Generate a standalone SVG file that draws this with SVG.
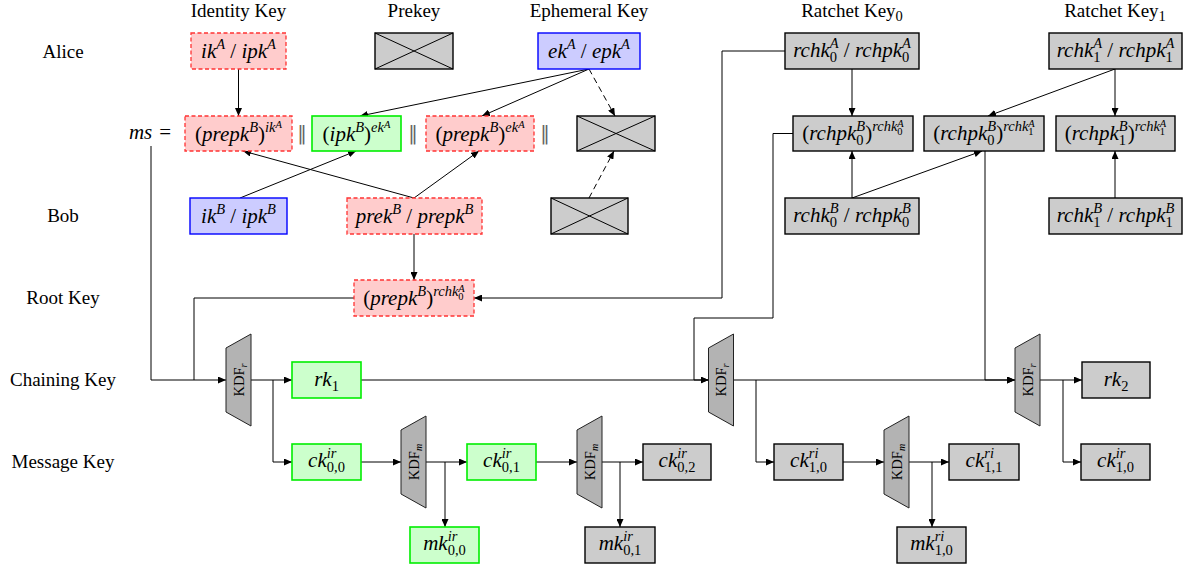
<svg xmlns="http://www.w3.org/2000/svg" xmlns:xlink="http://www.w3.org/1999/xlink" width="1190" height="572" viewBox="0 0 1190 572">
<style>
.t{font-family:"Liberation Serif","DejaVu Serif",serif;font-size:19px;fill:#000;text-anchor:middle}
.m{font-family:"Liberation Serif","DejaVu Serif",serif;font-size:21px;fill:#000;text-anchor:middle}
.i{font-style:italic}
.s{font-size:14.5px}
.ss{font-size:10.5px}
.k{font-family:"Liberation Serif","DejaVu Serif",serif;font-size:14.5px;fill:#000;text-anchor:middle}
.ks{font-size:10px;font-style:italic}
.red{fill:#ffcccc;stroke:#ff3333;stroke-width:1.3;stroke-dasharray:4 2.5}
.blue{fill:#ccccff;stroke:#0000ff;stroke-width:1.4}
.green{fill:#ccffcc;stroke:#00ee00;stroke-width:1.6}
.gray{fill:#cccccc;stroke:#000;stroke-width:1.4}
.kdf{fill:#b3b3b3;stroke:#222;stroke-width:1}
.x{stroke:#000;stroke-width:1;fill:none}
.c{fill:none;stroke:#000;stroke-width:1}
.a{marker-end:url(#ah)}
.d{stroke-dasharray:6 4}
.par{font-family:"DejaVu Sans",sans-serif;font-size:19px;fill:#666;text-anchor:middle}
</style>
<defs>
<marker id="ah" markerUnits="userSpaceOnUse" markerWidth="9" markerHeight="7" refX="8" refY="3.5" orient="auto">
<path d="M0,0 L8,3.5 L0,7 Z" fill="#000"/>
</marker>
<polygon id="kdfshape" class="kdf" points="-12.5,-32 12.5,-46 12.5,46 -12.5,32"/>
</defs>

<g id="headers">
<text class="t" x="238.5" y="17">Identity Key</text>
<text class="t" x="414" y="17">Prekey</text>
<text class="t" x="589" y="17">Ephemeral Key</text>
<text class="t" x="852" y="17">Ratchet Key<tspan class="s" dy="4">0</tspan></text>
<text class="t" x="1115" y="17">Ratchet Key<tspan class="s" dy="4">1</tspan></text>
<text class="t" x="63" y="58">Alice</text>
<text class="t" x="63" y="222">Bob</text>
<text class="t" x="63" y="304">Root Key</text>
<text class="t" x="63" y="386">Chaining Key</text>
<text class="t" x="63" y="468">Message Key</text>
<text class="m" x="150" y="139"><tspan class="i">ms</tspan><tspan dx="7">=</tspan></text>
<text class="par" x="302" y="140">‖</text>
<text class="par" x="413" y="140">‖</text>
<text class="par" x="545" y="140">‖</text>
</g>

<g id="connectors">
<path class="c a" d="M238.5,69 V116"/>
<path class="c a" d="M589,69 L360,116"/>
<path class="c a" d="M589,69 L482,116"/>
<path class="c a d" d="M589,69 L615,116"/>
<path class="c a d" d="M589,198 L614,151"/>
<path class="c a" d="M240,198 L356,151"/>
<path class="c a" d="M414,198 L243,151"/>
<path class="c a" d="M414,198 L479,151"/>
<path class="c a" d="M414,234 V280"/>
<path class="c a" d="M785,51 H722 V298 H474"/>
<path class="c" d="M354,298 H194 V380"/>
<path class="c a" d="M151,146 V380 H226"/>
<path class="c a" d="M251,380 H292"/>
<path class="c a" d="M273,380 V462 H292"/>
<path class="c a" d="M361,380 H708.5"/>
<path class="c a" d="M793,133.5 H773 V318 H694 V380 H708.5"/>
<path class="c a" d="M852,69 V116"/>
<path class="c a" d="M1115,69 L988,116"/>
<path class="c a" d="M1115,69 V116"/>
<path class="c a" d="M852,198 V151"/>
<path class="c a" d="M852,198 L982,151"/>
<path class="c a" d="M1115,198 V151"/>
<path class="c a" d="M985,151 V380 H1015"/>
<path class="c a" d="M733.5,380 H1015"/>
<path class="c a" d="M756,380 V462 H774"/>
<path class="c a" d="M1040,380 H1082"/>
<path class="c a" d="M1063,380 V462 H1081"/>
<path class="c a" d="M361,462 H401"/>
<path class="c a" d="M426,462 H467"/>
<path class="c a" d="M445,462 V527"/>
<path class="c a" d="M536,462 H577"/>
<path class="c a" d="M602,462 H643"/>
<path class="c a" d="M620,462 V527"/>
<path class="c a" d="M843,462 H884"/>
<path class="c a" d="M909,462 H949"/>
<path class="c a" d="M932,462 V527"/>
</g>

<g id="ikA"><rect class="red" x="191" y="33" width="95" height="36"/>
<text class="m" x="238.5" y="58"><tspan class="i">ik</tspan><tspan class="i s" dy="-9">A</tspan><tspan dy="9"> / </tspan><tspan class="i">ipk</tspan><tspan class="i s" dy="-9">A</tspan></text></g>

<g id="prekeyA"><rect class="gray" x="375" y="33" width="78" height="36"/><path class="x" d="M375,33 L453,69 M375,69 L453,33"/></g>

<g id="ekA"><rect class="blue" x="538" y="33" width="102" height="36"/>
<text class="m" x="589" y="58"><tspan class="i">ek</tspan><tspan class="i s" dy="-9">A</tspan><tspan dy="9"> / </tspan><tspan class="i">epk</tspan><tspan class="i s" dy="-9">A</tspan></text></g>

<g id="rchk0A"><rect class="gray" x="785" y="33" width="134" height="36"/>
<text class="m" x="852" y="57"><tspan class="i">rchk</tspan><tspan class="s" dy="5">0</tspan><tspan class="i s" dx="-7.25" dy="-14">A</tspan><tspan dy="9"> / </tspan><tspan class="i">rchpk</tspan><tspan class="s" dy="5">0</tspan><tspan class="i s" dx="-7.25" dy="-14">A</tspan></text></g>

<g id="rchk1A"><rect class="gray" x="1049" y="33" width="133" height="36"/>
<text class="m" x="1115.5" y="57"><tspan class="i">rchk</tspan><tspan class="s" dy="5">1</tspan><tspan class="i s" dx="-7.25" dy="-14">A</tspan><tspan dy="9"> / </tspan><tspan class="i">rchpk</tspan><tspan class="s" dy="5">1</tspan><tspan class="i s" dx="-7.25" dy="-14">A</tspan></text></g>

<g id="ms_ikA"><rect class="red" x="185" y="116" width="107" height="35"/>
<text class="m" x="238.5" y="141">(<tspan class="i">prepk</tspan><tspan class="i s" dy="-9">B</tspan><tspan dy="9">)</tspan><tspan class="i s" dy="-9">ik</tspan><tspan class="i ss" dy="-4">A</tspan></text></g>

<g id="ms_ekA1"><rect class="green" x="312" y="116" width="89" height="35"/>
<text class="m" x="356.5" y="141">(<tspan class="i">ipk</tspan><tspan class="i s" dy="-9">B</tspan><tspan dy="9">)</tspan><tspan class="i s" dy="-9">ek</tspan><tspan class="i ss" dy="-4">A</tspan></text></g>

<g id="ms_ekA2"><rect class="red" x="426" y="116" width="108" height="35"/>
<text class="m" x="480" y="141">(<tspan class="i">prepk</tspan><tspan class="i s" dy="-9">B</tspan><tspan dy="9">)</tspan><tspan class="i s" dy="-9">ek</tspan><tspan class="i ss" dy="-4">A</tspan></text></g>

<g id="ms_cross"><rect class="gray" x="577" y="116" width="78" height="35"/><path class="x" d="M577,116 L655,151 M577,151 L655,116"/></g>

<g id="rr00"><rect class="gray" x="793" y="116" width="120" height="35"/>
<text class="m" x="853" y="140">(<tspan class="i">rchpk</tspan><tspan class="s" dy="5">0</tspan><tspan class="i s" dx="-7.25" dy="-14">B</tspan><tspan dy="9">)</tspan><tspan class="i s" dy="-9">rchk</tspan><tspan class="ss" dy="4">0</tspan><tspan class="i ss" dx="-5.25" dy="-8">A</tspan></text></g>

<g id="rr01"><rect class="gray" x="924" y="116" width="120" height="35"/>
<text class="m" x="984" y="140">(<tspan class="i">rchpk</tspan><tspan class="s" dy="5">0</tspan><tspan class="i s" dx="-7.25" dy="-14">B</tspan><tspan dy="9">)</tspan><tspan class="i s" dy="-9">rchk</tspan><tspan class="ss" dy="4">1</tspan><tspan class="i ss" dx="-5.25" dy="-8">A</tspan></text></g>

<g id="rr11"><rect class="gray" x="1056" y="116" width="119" height="35"/>
<text class="m" x="1115.5" y="140">(<tspan class="i">rchpk</tspan><tspan class="s" dy="5">1</tspan><tspan class="i s" dx="-7.25" dy="-14">B</tspan><tspan dy="9">)</tspan><tspan class="i s" dy="-9">rchk</tspan><tspan class="ss" dy="4">1</tspan><tspan class="i ss" dx="-5.25" dy="-8">A</tspan></text></g>

<g id="ikB"><rect class="blue" x="190" y="198" width="97" height="36"/>
<text class="m" x="238.5" y="223"><tspan class="i">ik</tspan><tspan class="i s" dy="-9">B</tspan><tspan dy="9"> / </tspan><tspan class="i">ipk</tspan><tspan class="i s" dy="-9">B</tspan></text></g>

<g id="prekB"><rect class="red" x="347" y="198" width="135" height="36"/>
<text class="m" x="414.5" y="223"><tspan class="i">prek</tspan><tspan class="i s" dy="-9">B</tspan><tspan dy="9"> / </tspan><tspan class="i">prepk</tspan><tspan class="i s" dy="-9">B</tspan></text></g>

<g id="prekeyB"><rect class="gray" x="551" y="198" width="77" height="36"/><path class="x" d="M551,198 L628,234 M551,234 L628,198"/></g>

<g id="rchk0B"><rect class="gray" x="785" y="198" width="134" height="36"/>
<text class="m" x="852" y="222"><tspan class="i">rchk</tspan><tspan class="s" dy="5">0</tspan><tspan class="i s" dx="-7.25" dy="-14">B</tspan><tspan dy="9"> / </tspan><tspan class="i">rchpk</tspan><tspan class="s" dy="5">0</tspan><tspan class="i s" dx="-7.25" dy="-14">B</tspan></text></g>

<g id="rchk1B"><rect class="gray" x="1049" y="198" width="133" height="36"/>
<text class="m" x="1115.5" y="222"><tspan class="i">rchk</tspan><tspan class="s" dy="5">1</tspan><tspan class="i s" dx="-7.25" dy="-14">B</tspan><tspan dy="9"> / </tspan><tspan class="i">rchpk</tspan><tspan class="s" dy="5">1</tspan><tspan class="i s" dx="-7.25" dy="-14">B</tspan></text></g>

<g id="rootkey"><rect class="red" x="354" y="280" width="120" height="36"/>
<text class="m" x="414" y="305">(<tspan class="i">prepk</tspan><tspan class="i s" dy="-9">B</tspan><tspan dy="9">)</tspan><tspan class="i s" dy="-9">rchk</tspan><tspan class="ss" dy="4">0</tspan><tspan class="i ss" dx="-5.25" dy="-8">A</tspan></text></g>

<g id="kdfr1"><use xlink:href="#kdfshape" x="238.5" y="380"/>
<text class="k" transform="translate(243.5,380) rotate(-90)">KDF<tspan class="ks" dy="3">r</tspan></text></g>
<g id="kdfr2"><use xlink:href="#kdfshape" x="721" y="380"/>
<text class="k" transform="translate(726,380) rotate(-90)">KDF<tspan class="ks" dy="3">r</tspan></text></g>
<g id="kdfr3"><use xlink:href="#kdfshape" x="1027.5" y="380"/>
<text class="k" transform="translate(1032.5,380) rotate(-90)">KDF<tspan class="ks" dy="3">r</tspan></text></g>
<g id="kdfm1"><use xlink:href="#kdfshape" x="413.5" y="462"/>
<text class="k" transform="translate(418.5,462) rotate(-90)">KDF<tspan class="ks" dy="3">m</tspan></text></g>
<g id="kdfm2"><use xlink:href="#kdfshape" x="589.5" y="462"/>
<text class="k" transform="translate(594.5,462) rotate(-90)">KDF<tspan class="ks" dy="3">m</tspan></text></g>
<g id="kdfm3"><use xlink:href="#kdfshape" x="896.5" y="462"/>
<text class="k" transform="translate(901.5,462) rotate(-90)">KDF<tspan class="ks" dy="3">m</tspan></text></g>

<g id="rk1"><rect class="green" x="292" y="362" width="69" height="36"/>
<text class="m" x="326.5" y="386"><tspan class="i">rk</tspan><tspan class="s" dy="5">1</tspan></text></g>
<g id="rk2"><rect class="gray" x="1082" y="362" width="68" height="36"/>
<text class="m" x="1116" y="386"><tspan class="i">rk</tspan><tspan class="s" dy="5">2</tspan></text></g>

<g id="ck00"><rect class="green" x="292" y="444" width="69" height="36"/>
<text class="m" x="326.5" y="467"><tspan class="i">ck</tspan><tspan class="i s" dy="-9">ir</tspan><tspan class="s" dx="-9.7" dy="14">0,0</tspan></text></g>
<g id="ck01"><rect class="green" x="467" y="444" width="69" height="36"/>
<text class="m" x="501.5" y="467"><tspan class="i">ck</tspan><tspan class="i s" dy="-9">ir</tspan><tspan class="s" dx="-9.7" dy="14">0,1</tspan></text></g>
<g id="ck02"><rect class="gray" x="643" y="444" width="68" height="36"/>
<text class="m" x="677" y="467"><tspan class="i">ck</tspan><tspan class="i s" dy="-9">ir</tspan><tspan class="s" dx="-9.7" dy="14">0,2</tspan></text></g>
<g id="ck10ri"><rect class="gray" x="774" y="444" width="69" height="36"/>
<text class="m" x="808.5" y="467"><tspan class="i">ck</tspan><tspan class="i s" dy="-9">ri</tspan><tspan class="s" dx="-9.7" dy="14">1,0</tspan></text></g>
<g id="ck11ri"><rect class="gray" x="949" y="444" width="70" height="36"/>
<text class="m" x="984" y="467"><tspan class="i">ck</tspan><tspan class="i s" dy="-9">ri</tspan><tspan class="s" dx="-9.7" dy="14">1,1</tspan></text></g>
<g id="ck10ir"><rect class="gray" x="1081" y="444" width="69" height="36"/>
<text class="m" x="1115.5" y="467"><tspan class="i">ck</tspan><tspan class="i s" dy="-9">ir</tspan><tspan class="s" dx="-9.7" dy="14">1,0</tspan></text></g>

<g id="mk00"><rect class="green" x="410" y="527" width="69" height="36"/>
<text class="m" x="444.5" y="550"><tspan class="i">mk</tspan><tspan class="i s" dy="-9">ir</tspan><tspan class="s" dx="-9.7" dy="14">0,0</tspan></text></g>
<g id="mk01"><rect class="gray" x="585" y="527" width="70" height="36"/>
<text class="m" x="620" y="550"><tspan class="i">mk</tspan><tspan class="i s" dy="-9">ir</tspan><tspan class="s" dx="-9.7" dy="14">0,1</tspan></text></g>
<g id="mk10"><rect class="gray" x="897" y="527" width="69" height="36"/>
<text class="m" x="931.5" y="550"><tspan class="i">mk</tspan><tspan class="i s" dy="-9">ri</tspan><tspan class="s" dx="-9.7" dy="14">1,0</tspan></text></g>
</svg>
